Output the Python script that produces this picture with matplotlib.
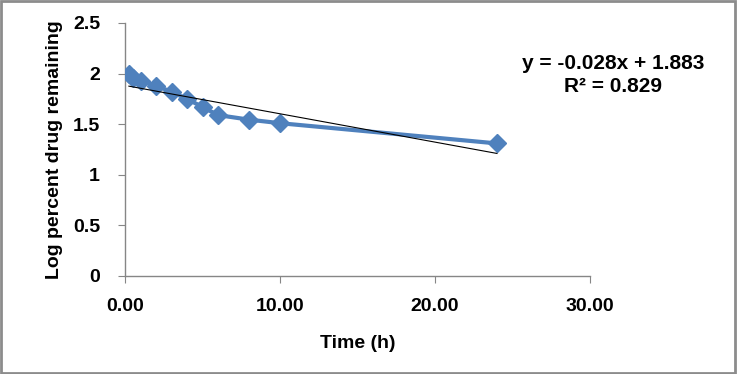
import matplotlib
matplotlib.use("Agg")
import matplotlib.pyplot as plt
from matplotlib.patches import Rectangle

# data
time_h = [0.25, 0.5, 1, 2, 3, 4, 5, 6, 8, 10, 24]
log_remaining = [2.00, 1.96, 1.93, 1.88, 1.82, 1.75, 1.67, 1.59, 1.545, 1.51, 1.31]

# trendline shown on the chart
slope = -0.028
intercept = 1.883
r_squared = 0.829

x_ticks = [0, 10, 20, 30]
y_ticks = [0, 0.5, 1, 1.5, 2, 2.5]

plt.rcParams["font.family"] = ["Liberation Sans", "DejaVu Sans"]
plt.rcParams["font.weight"] = "bold"

fig = plt.figure(figsize=(7.37, 3.74), dpi=100)
ax = fig.add_axes([125 / 737, 1 - 276 / 374, 465 / 737, 253 / 374])

blue = "#4F81BD"
grey = "#868686"

ax.plot(time_h, log_remaining, color=blue, lw=3, marker="D", markersize=9,
        markeredgecolor=blue, zorder=3)

trend_x = [min(time_h), max(time_h)]
trend_y = [slope * t + intercept for t in trend_x]
ax.plot(trend_x, trend_y, color="black", lw=0.8, zorder=4)

ax.set_xlim(0, 30)
ax.set_ylim(0, 2.5)
ax.set_xticks(x_ticks)
ax.set_xticklabels([f"{t:.2f}" for t in x_ticks])
ax.set_yticks(y_ticks)
ax.set_yticklabels([f"{t:g}" for t in y_ticks])

for side in ["top", "right"]:
    ax.spines[side].set_visible(False)
for side in ["left", "bottom"]:
    ax.spines[side].set_color(grey)
    ax.spines[side].set_linewidth(1)

ax.tick_params(axis="x", colors=grey, length=5, pad=11, labelsize=14,
               labelcolor="black")
ax.tick_params(axis="y", colors=grey, length=5, pad=13, labelsize=14,
               labelcolor="black")

ax.set_xlabel("Time (h)", fontsize=14, fontweight="bold", labelpad=14)
ax.set_ylabel("Log percent drug remaining", fontsize=14, fontweight="bold",
              labelpad=7)

fig.text(613 / 737, 1 - 75 / 374,
         f"y = {slope:.3f}x + {intercept:.3f}\nR² = {r_squared:.3f}",
         ha="center", va="center", fontsize=15, fontweight="bold",
         linespacing=1.25)

fig.patches.append(Rectangle((0.002, 0.003), 0.995, 0.993, transform=fig.transFigure,
                             fill=False, edgecolor="#8C8C8C", lw=2))

fig.savefig("out.png", dpi=100)
